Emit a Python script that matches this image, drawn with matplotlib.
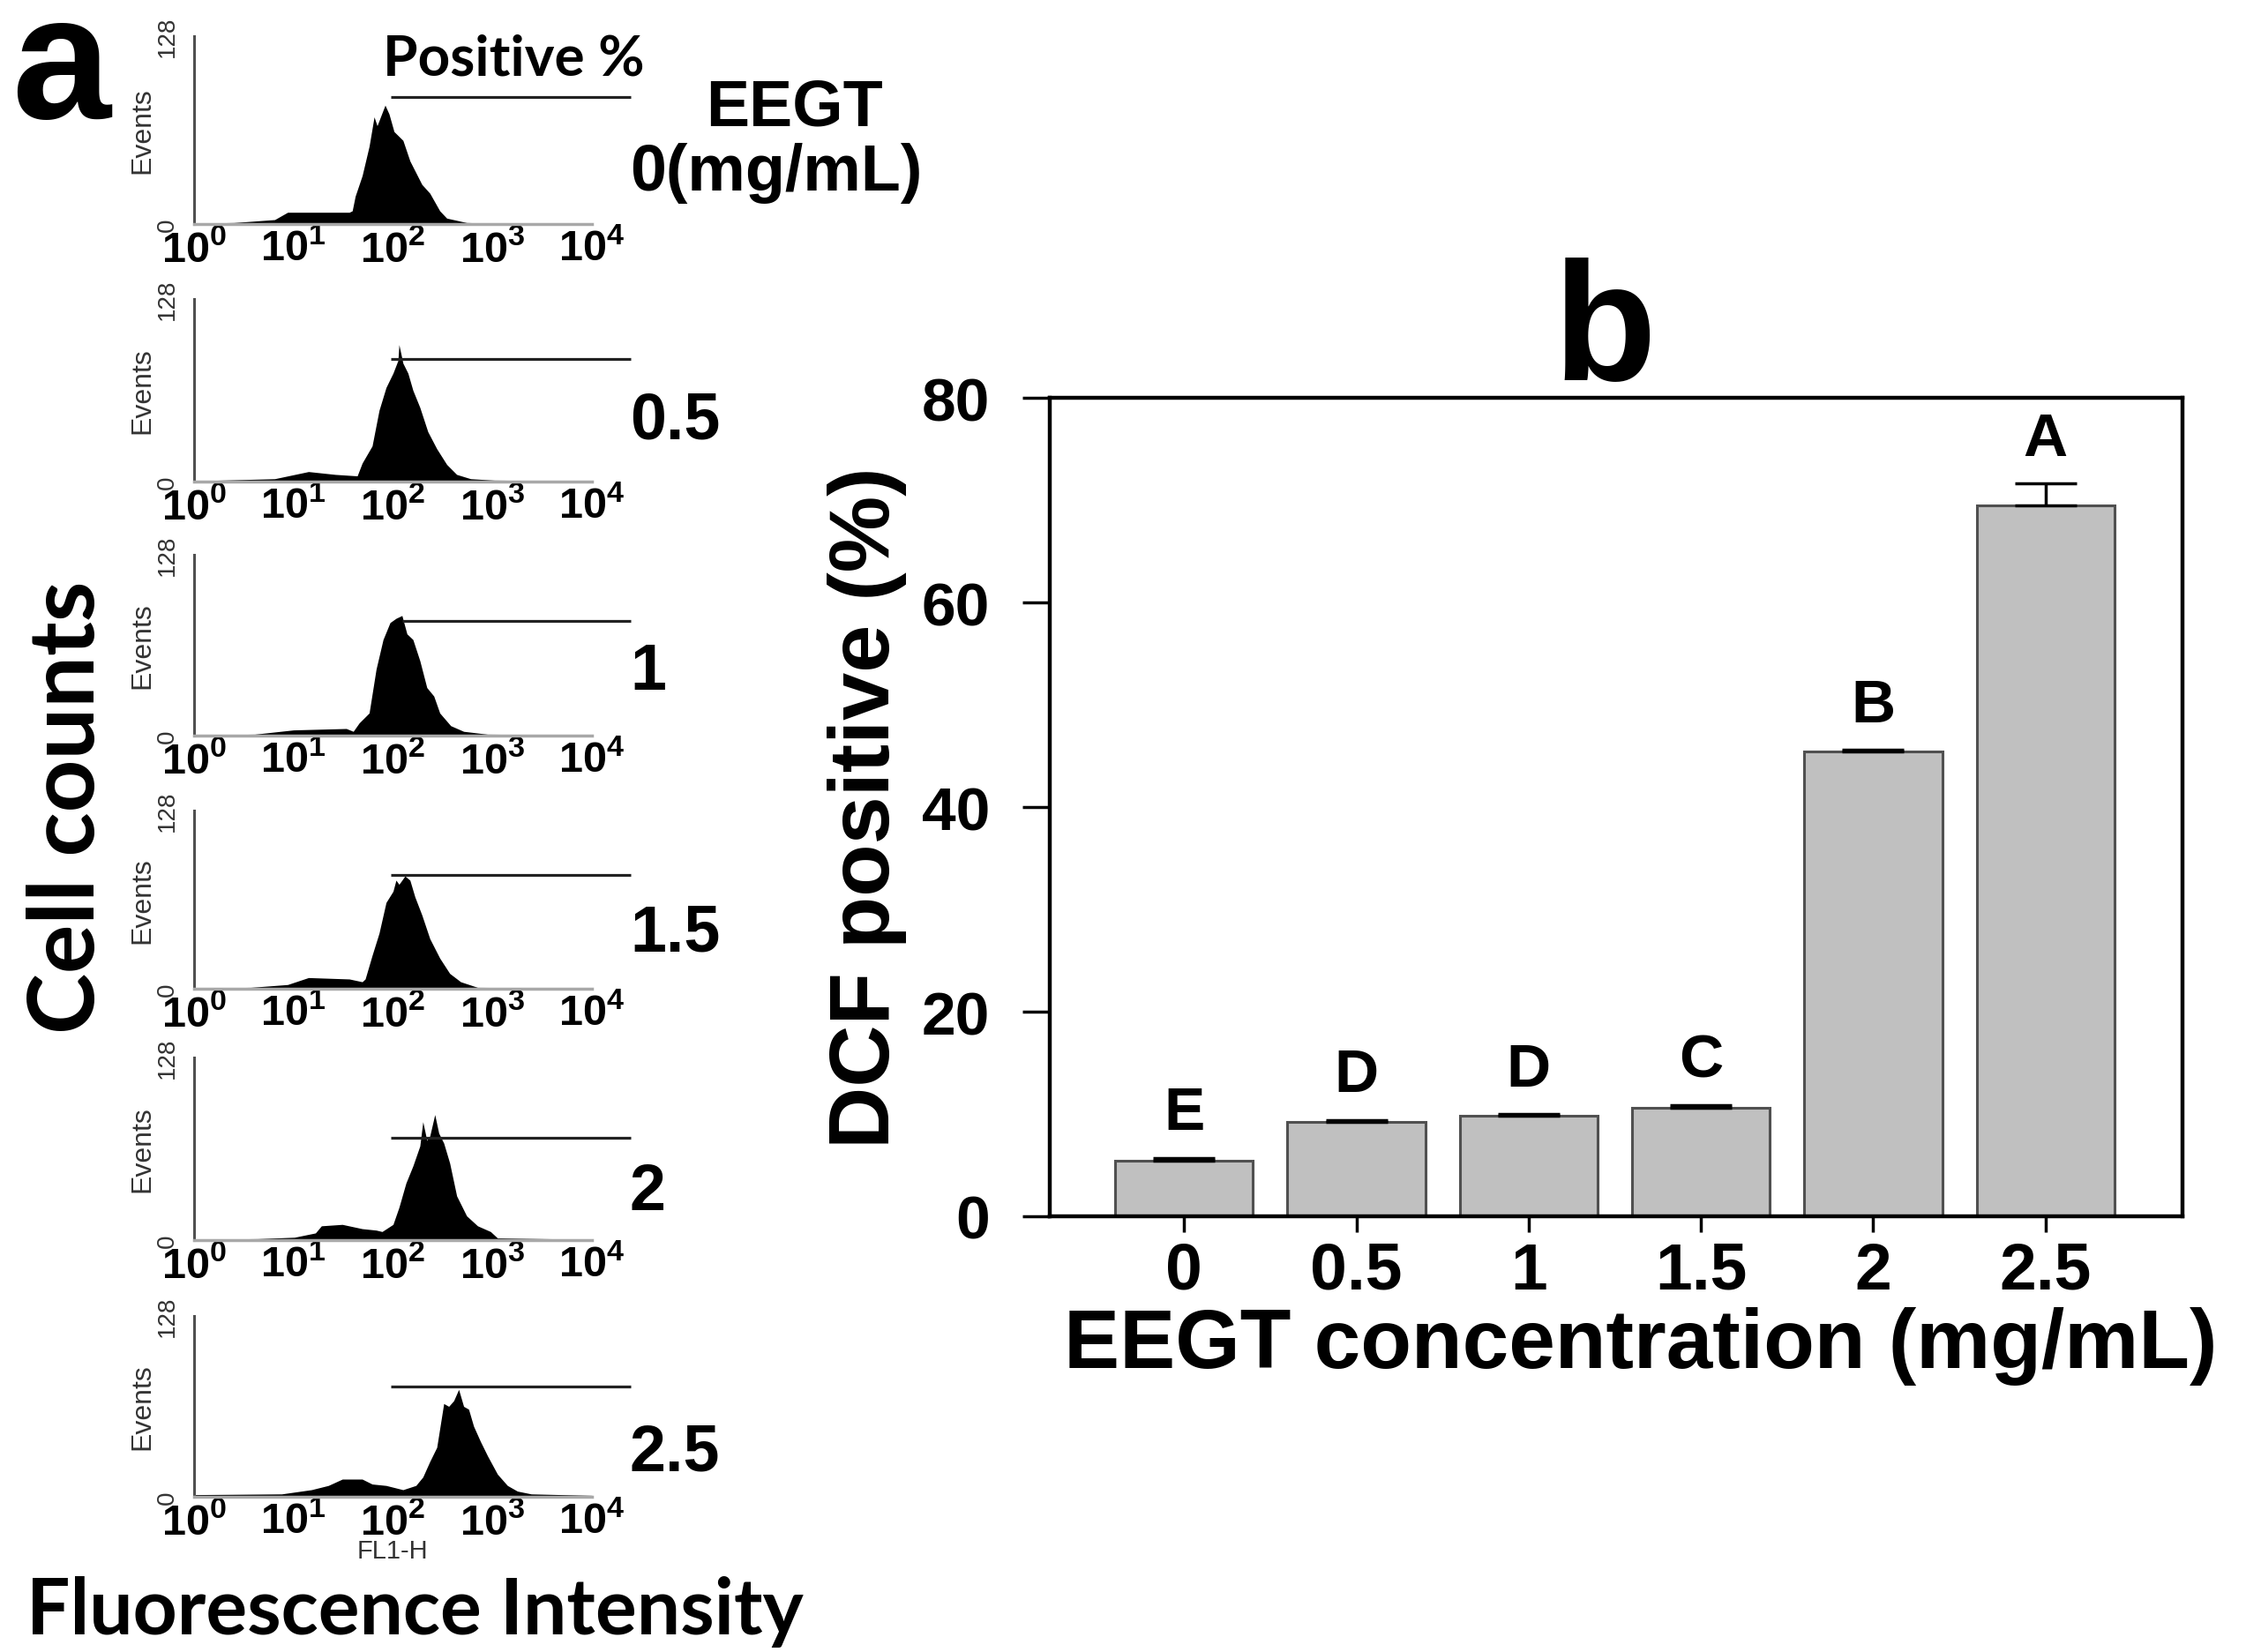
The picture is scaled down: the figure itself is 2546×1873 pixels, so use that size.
import numpy as np
import matplotlib
matplotlib.use('Agg')
import matplotlib.pyplot as plt
from matplotlib.ticker import NullLocator

plt.rcParams['font.family'] = ['Liberation Sans', 'DejaVu Sans']
plt.rcParams['font.weight'] = 'bold'
plt.rcParams['axes.labelweight'] = 'bold'
plt.rcParams['mathtext.default'] = 'regular'

NARROW = ['Liberation Sans Narrow', 'Liberation Sans', 'DejaVu Sans']
HUMAN = ['Lato', 'Open Sans', 'DejaVu Sans']

# ---- panel b data ----
conc_labels = ['0', '0.5', '1', '1.5', '2', '2.5']
dcf_pos = [5.4, 9.2, 9.8, 10.6, 45.4, 69.5]
dcf_err = [0.3, 0.2, 0.2, 0.3, 0.2, 2.1]
letters = ['E', 'D', 'D', 'C', 'B', 'A']

# ---- panel a data: histogram outlines (log10 FL1-H, events) ----
hist_logx = [
    [0.0, 0.4, 0.81, 0.94, 1.32, 1.56, 1.59, 1.62, 1.69, 1.76, 1.81, 1.84, 1.88, 1.92,
     1.96, 2.01, 2.10, 2.17, 2.29, 2.37, 2.47, 2.54, 2.74, 3.0, 4.0],
    [0.0, 0.81, 1.15, 1.42, 1.64, 1.69, 1.79, 1.86, 1.93, 2.00, 2.05, 2.06, 2.10, 2.15,
     2.20, 2.27, 2.35, 2.44, 2.54, 2.64, 2.78, 3.02, 4.0],
    [0.0, 0.61, 1.0, 1.53, 1.60, 1.66, 1.76, 1.83, 1.90, 1.97, 2.03, 2.09, 2.14, 2.20,
     2.27, 2.34, 2.41, 2.47, 2.58, 2.71, 2.95, 4.0],
    [0.0, 0.57, 0.94, 1.15, 1.56, 1.69, 1.72, 1.79, 1.86, 1.93, 2.00, 2.03, 2.06, 2.12,
     2.17, 2.22, 2.29, 2.37, 2.47, 2.57, 2.68, 2.85, 4.0],
    [0.0, 0.64, 1.01, 1.22, 1.28, 1.49, 1.69, 1.83, 1.89, 2.00, 2.06, 2.13, 2.20, 2.27,
     2.30, 2.34, 2.37, 2.42, 2.46, 2.51, 2.57, 2.64, 2.74, 2.85, 2.98, 3.05, 4.0],
    [0.0, 0.88, 1.18, 1.35, 1.49, 1.69, 1.79, 1.93, 2.10, 2.23, 2.30, 2.37, 2.44, 2.51,
     2.56, 2.61, 2.66, 2.71, 2.76, 2.81, 2.88, 2.95, 3.05, 3.15, 3.25, 3.39, 4.0],
]
hist_counts = [
    [0.5, 1, 3, 8, 8, 8, 9, 19, 33, 53, 73, 67, 74, 81, 75, 63, 57, 43, 27, 21, 9, 4, 1, 0.5, 0.5],
    [0.5, 2, 7, 5, 4, 13, 25, 50, 66, 76, 85, 96, 83, 76, 64, 52, 35, 23, 12, 5, 2, 1, 0.5],
    [0.5, 1, 4, 5, 3, 9, 16, 47, 68, 80, 83, 85, 72, 68, 53, 34, 28, 16, 7, 3, 1, 0.5],
    [0.5, 1, 3, 8, 7, 5, 7, 24, 40, 62, 70, 78, 75, 81, 78, 66, 53, 36, 22, 11, 5, 1, 0.5],
    [0.5, 1, 2, 5, 10, 11, 8, 7, 6, 11, 23, 40, 52, 66, 83, 70, 73, 88, 75, 68, 54, 31, 17,
     10, 6, 1.5, 0.5],
    [1.5, 2, 5, 8, 12.5, 12.5, 9, 8, 5, 8, 14, 25, 35, 66, 64, 68, 76, 64, 62, 50, 39, 29,
     16, 8, 4, 2, 1],
]
gate_start = [1.98, 1.98, 2.09, 1.98, 1.98, 1.98]
gate_level = [86.6, 86, 81, 82, 72, 78]
gate_end = 4.39
dose_labels = ['0(mg/mL)', '0.5', '1', '1.5', '2', '2.5']

W, H = 2546, 1874
fig = plt.figure(figsize=(W / 100, H / 100), dpi=100, facecolor='white')

# ---------------- panel a ----------------
hist_top = [42, 340, 630, 920, 1200, 1493]
hist_bot = [255, 547, 835, 1122, 1407, 1698]
label_y = [197, 478, 763, 1059, 1353, 1648]

for i in range(6):
    hax = fig.add_axes([220 / W, 1 - hist_bot[i] / H, 451 / W, (hist_bot[i] - hist_top[i]) / H])
    x = 10 ** np.array(hist_logx[i])
    hax.fill_between(x, 0, hist_counts[i], color='black', lw=0)
    hax.plot([10 ** gate_start[i], 10 ** gate_end], [gate_level[i]] * 2,
             color='#222222', lw=2.3, clip_on=False, solid_capstyle='butt')
    hax.set_xscale('log')
    hax.set_xlim(1, 1e4)
    hax.set_ylim(0, 128)
    hax.spines['top'].set_visible(False)
    hax.spines['right'].set_visible(False)
    hax.spines['left'].set_color('#505050')
    hax.spines['left'].set_linewidth(2.2)
    hax.spines['bottom'].set_color('#a8a8a8')
    hax.spines['bottom'].set_linewidth(2.5)
    hax.set_xticks([1, 10, 100, 1000, 10000])
    hax.set_xticklabels([r'$\mathregular{10^{%d}}$' % k for k in range(5)],
                        family=NARROW, fontsize=35, fontweight='bold')
    hax.xaxis.set_minor_locator(NullLocator())
    hax.tick_params(axis='x', length=0, pad=4)
    hax.set_yticks([0, 128])
    hax.set_yticklabels(['0', '128'], rotation=90, va='center', family=NARROW,
                        fontsize=20, fontweight='normal', color='#333333')
    hax.tick_params(axis='y', length=0, pad=12)
    hax.set_ylabel('Events', family=NARROW, fontsize=23, fontweight='normal',
                   color='#333333', labelpad=1)
    fig.text(714 / W, 1 - label_y[i] / H, dose_labels[i], ha='left', va='center', fontsize=53)

fig.text(900 / W, 1 - 123 / H, 'EEGT', ha='center', va='center', fontsize=53)
fig.text(434 / W, 1 - 85 / H, 'Positive %', ha='left', va='baseline', family=HUMAN, fontsize=46)
fig.text(13 / W, 1 - 134 / H, 'a', ha='left', va='baseline', fontsize=145)
fig.text(77 / W, 1 - 915 / H, 'Cell counts', rotation=90, ha='center', va='center',
         family=HUMAN, fontsize=75)
fig.text(30 / W, 1 - 1853 / H, 'Fluorescence Intensity', ha='left', va='baseline',
         family=HUMAN, fontsize=63)
fig.text(445 / W, 1 - 1759 / H, 'FL1-H', ha='center', va='center', family=NARROW,
         fontsize=21, fontweight='normal', color='#333333')

# ---------------- panel b ----------------
ax = fig.add_axes([1190 / W, 1 - 1380 / H, 1284 / W, 928 / H])
xpos = np.arange(len(conc_labels))
ax.bar(xpos, dcf_pos, width=0.8, color='#c0c0c0', edgecolor='#505050', linewidth=2.2, zorder=2)
ax.errorbar(xpos, dcf_pos, yerr=[np.zeros(len(dcf_err)), dcf_err], fmt='none', ecolor='black',
            elinewidth=2.5, capsize=25, capthick=2.5, zorder=3)
for xi, v, e, t in zip(xpos, dcf_pos, dcf_err, letters):
    ax.text(xi, v + e + 2.8, t, ha='center', va='baseline', fontsize=50)

ax.set_xlim(-0.78, 5.795)
ax.set_ylim(0, 80)
ax.set_yticks([0, 20, 40, 60, 80])
ax.set_xticks(xpos)
ax.set_xticklabels(conc_labels)
for s in ax.spines.values():
    s.set_linewidth(3.2)
ax.tick_params(axis='y', length=22, width=2.5, pad=27, labelsize=50)
ax.tick_params(axis='x', length=13, width=2.5, pad=7, labelsize=54)
ax.set_xlabel('EEGT concentration (mg/mL)', fontsize=68, fontweight='bold', labelpad=4)
ax.xaxis.label.set_x(0.522)
ax.set_ylabel('DCF positive (%)', fontsize=70, fontweight='bold', labelpad=12)
ax.text(0.49, 1.024, 'b', transform=ax.transAxes, ha='center', va='baseline', fontsize=138)

fig.savefig('out.png', dpi=100, facecolor='white')
